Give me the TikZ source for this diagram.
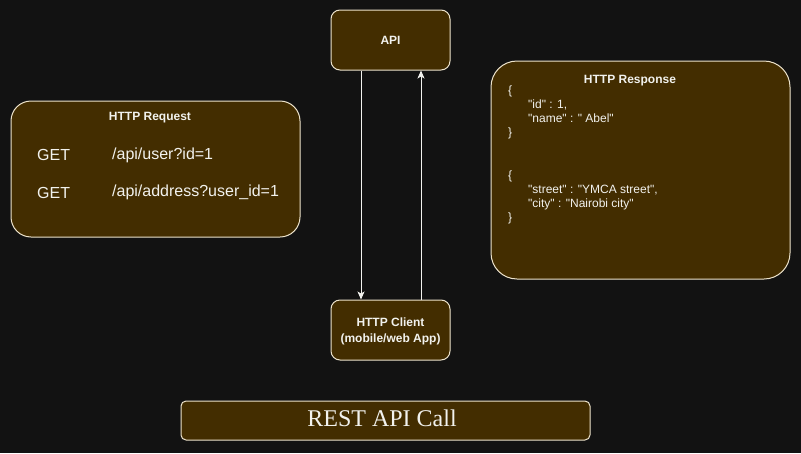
\documentclass[tikz,border=0pt]{standalone}
\usepackage{fontspec}
\setmainfont{Liberation Sans}[Ligatures=TeXOff]
\newfontfamily\serifcall{Liberation Serif}
\usetikzlibrary{arrows.meta}

\definecolor{bgdark}{HTML}{121212}
\definecolor{boxfill}{HTML}{432D00}
\definecolor{boxline}{HTML}{EDE3CC}
\definecolor{txt}{HTML}{F2F2EE}

\tikzset{
  box/.style={draw=boxline, fill=boxfill, line width=1pt, inner sep=0pt},
  lbl/.style={text=txt, inner sep=0pt, font=\bfseries\fontsize{12}{16}\selectfont},
  req/.style={text=txt, inner sep=0pt, anchor=west, font=\fontsize{16}{19}\selectfont},
  link/.style={draw=txt, line width=1pt, -{Stealth[length=8pt,width=7pt,inset=2pt]}}
}

\begin{document}
\begin{tikzpicture}[x=1pt,y=-1pt]

      % Canvas
      \fill[bgdark] (0,0) rectangle (801,453);
      \useasboundingbox (0,0) rectangle (801,453);

      % Boxes
      \node[box, lbl, rounded corners=9pt, minimum width=119pt, minimum height=60pt] (api) at (390.5,40) {API};
      \node[box, rounded corners=9pt, minimum width=119pt, minimum height=60pt] (client) at (390.5,330) {};
      \node[box, rounded corners=20pt, minimum width=289pt, minimum height=136pt] (request) at (155.5,169) {};
      \node[box, rounded corners=26pt, minimum width=299pt, minimum height=218pt] (response) at (640.5,170) {};
      \node[box, rounded corners=5pt, minimum width=409pt, minimum height=39pt] (call) at (385.5,420.5) {};
      \node[text=txt, inner sep=0pt, font=\serifcall\fontsize{24}{28}\selectfont] (calltitle) at (382,418.5) {REST API Call};

      % Client label
      \node[lbl, align=center] (clienttext) at (390.5,331.5) {HTTP Client\\(mobile/web App)};

      % Request labels
      \node[lbl] (reqtitle) at (150,118) {HTTP Request};
      \node[req] (get1) at (37,155) {GET};
      \node[req] (path1) at (112,155) {/api/user?id=1};
      \node[req] (get2) at (37,192.5) {GET};
      \node[req] (path2) at (112,192.5) {/api/address?user\_id=1};

      % Response labels
      \node[lbl] (resptitle) at (630,81) {HTTP Response};
      \node[lbl, anchor=north west, align=left, font=\fontsize{12}{14}\selectfont] (resptext) at (508,86) {\{\\
        \hspace*{20pt}"id" : 1,\\
        \hspace*{20pt}"name" : " Abel"\\
        \}\\[29pt]
        \{\\
        \hspace*{20pt}"street" : "YMCA street",\\
        \hspace*{20pt}"city" : "Nairobi city"\\
        \}};

      % Calls
      \draw[link] ([xshift=-29.5pt]api.south) -- ([xshift=-29.5pt]client.north);
      \draw[link] ([xshift=30.5pt]client.north) -- ([xshift=30.5pt]api.south);

\end{tikzpicture}
\end{document}
